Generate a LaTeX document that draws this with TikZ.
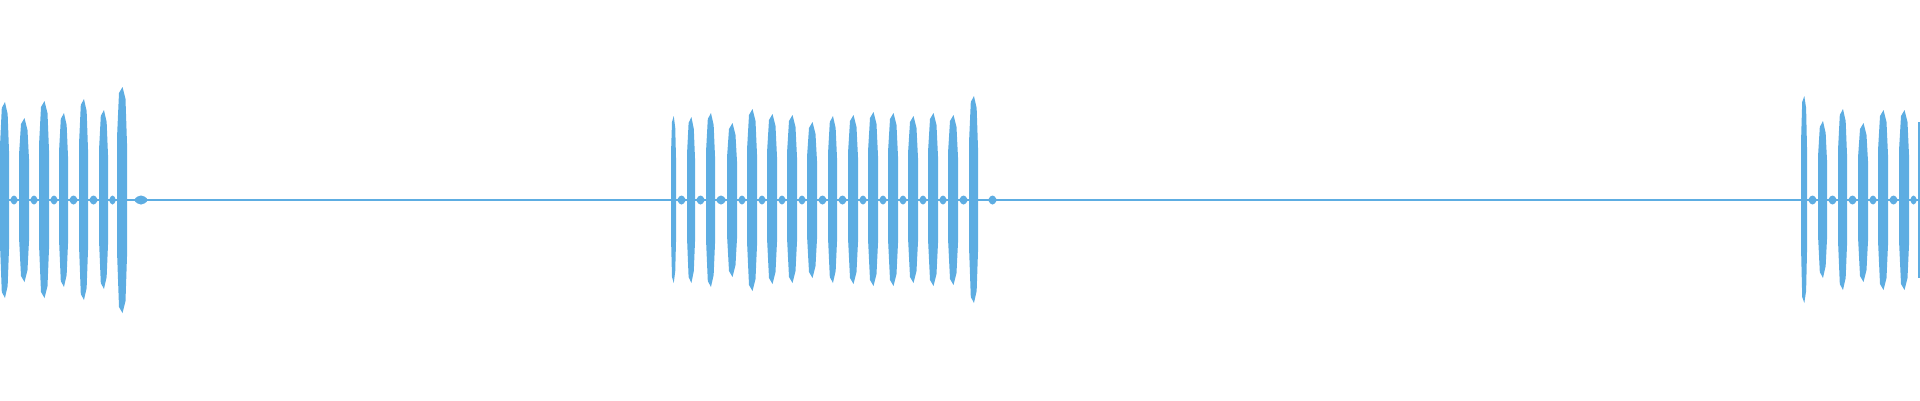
\documentclass[tikz,border=0pt]{standalone}
\usetikzlibrary{positioning}
\definecolor{wave}{RGB}{93,173,226}
% one burst: left x, right x, top y, bottom y (pixel units, y down)
\newcommand{\burst}[4]{%
  \fill[wave] (#1,200) -- (#1,{#3+0.45*(200-#3)}) -- ({#1+0.2*(#2-#1)},{#3+6})
    -- ({#1+0.55*(#2-#1)},#3) -- ({#1+0.85*(#2-#1)},{#3+12}) -- (#2,{#3+0.5*(200-#3)})
    -- (#2,{200+0.5*(#4-200)}) -- ({#1+0.85*(#2-#1)},{#4-12}) -- ({#1+0.55*(#2-#1)},#4)
    -- ({#1+0.2*(#2-#1)},{#4-6}) -- (#1,{200+0.45*(#4-200)}) -- cycle;}
\newcommand{\blob}[2]{\fill[wave] (#1,200) .. controls ({#1+0.3*(#2-#1)},194) and ({#1+0.7*(#2-#1)},194) .. (#2,200)
    .. controls ({#1+0.7*(#2-#1)},206) and ({#1+0.3*(#2-#1)},206) .. (#1,200);}
\begin{document}
\begin{tikzpicture}[x=1pt,y=-1pt]
  \useasboundingbox (0,0) rectangle (1920,400);
  \draw[wave, line width=1.3pt] (0,200) -- (1920,200);
  % first group
  \foreach \a/\b/\t/\u in {0/9/102/298, 19/29/118/282, 39/49/101/298, 59/68/113/287,
      79/88/99/300, 99/108/110/289, 117/127/87/313}
    {\burst{\a}{\b}{\t}{\u}}
  \foreach \a/\b in {10/18, 30/38, 50/58, 69/78, 89/98, 109/116}
    {\blob{\a}{\b}}
  \blob{134}{148}
  % middle group
  \foreach \a/\b/\t/\u in {671/676/116/283, 687/695/117/283, 706/715/113/287, 727/737/123/277,
      747/757/109/291, 767/777/114/284, 787/797/115/283, 807/817/122/278, 828/837/116/283,
      848/858/115/284, 868/878/112/286, 888/898/113/286, 908/918/116/283, 928/938/113/286,
      948/958/115/285, 969/978/96/303}
    {\burst{\a}{\b}{\t}{\u}}
  \foreach \a/\b in {677/686, 696/705, 716/726, 738/746, 758/766, 778/786, 798/806, 818/827,
      838/847, 859/867, 879/887, 899/907, 919/927, 939/947, 959/968}
    {\blob{\a}{\b}}
  \blob{988}{997}
  % last group
  \foreach \a/\b/\t/\u in {1801/1807/96/303, 1818/1827/121/278, 1838/1847/109/290,
      1858/1868/123/282, 1878/1888/110/290, 1899/1909/110/290}
    {\burst{\a}{\b}{\t}{\u}}
  \foreach \a/\b in {1808/1817, 1828/1837, 1848/1857, 1869/1877, 1889/1898, 1910/1917}
    {\blob{\a}{\b}}
  \fill[wave] (1918,122) rectangle (1920,278);
\end{tikzpicture}
\end{document}
